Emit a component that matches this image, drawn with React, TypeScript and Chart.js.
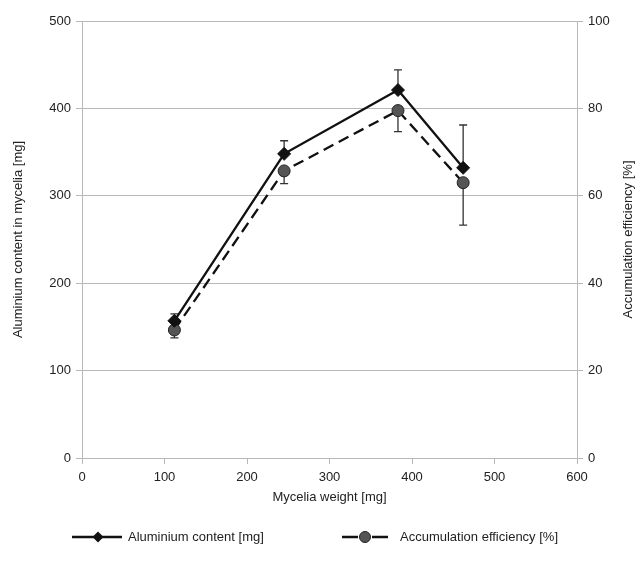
import React, { useEffect, useRef } from "react";
import { Chart, registerables } from "chart.js";
Chart.register(...registerables);

const myceliaWeight = [112, 245, 383, 462];
const aluminiumContent = [157, 348, 421, 332];
const aluminiumErrPlus = [8, 15, 23, 49];
const accumulationEff = [29.3, 65.7, 79.5, 63.0];
const accumulationErrMinus = [1.8, 2.9, 4.8, 9.7];

const xTicks = [0, 100, 200, 300, 400, 500, 600];
const yLeftTicks = [0, 100, 200, 300, 400, 500];
const yRightTicks = [0, 20, 40, 60, 80, 100];

const seriesNames = ["Aluminium content [mg]", "Accumulation efficiency [%]"];
const xTitle = "Mycelia weight [mg]";
const yLeftTitle = "Aluminium content in mycelia [mg]";
const yRightTitle = "Accumulation efficiency [%]";

const FONT = "'Liberation Sans', Arial, sans-serif";
const TEXT = "#222";
const GRID = "#b8b8b8";

const errorBarPlugin = {
  id: "errorBars",
  beforeDatasetsDraw(chart: any) {
    const ctx = chart.ctx;
    const x = chart.scales.x;
    const sets = [
      { scale: chart.scales.y, vals: aluminiumContent, errs: aluminiumErrPlus, dir: 1 },
      { scale: chart.scales.y1, vals: accumulationEff, errs: accumulationErrMinus, dir: -1 },
    ];
    ctx.save();
    ctx.strokeStyle = "#333";
    ctx.lineWidth = 1.3;
    sets.forEach((s) => {
      s.vals.forEach((v, i) => {
        const px = x.getPixelForValue(myceliaWeight[i]);
        const from = s.scale.getPixelForValue(v);
        const to = s.scale.getPixelForValue(v + s.dir * s.errs[i]);
        ctx.beginPath();
        ctx.moveTo(px, from);
        ctx.lineTo(px, to);
        ctx.moveTo(px - 4, to);
        ctx.lineTo(px + 4, to);
        ctx.stroke();
      });
    });
    ctx.restore();
  },
};

const titlesLegendPlugin = {
  id: "titlesLegend",
  afterDraw(chart: any) {
    const ctx = chart.ctx;
    const a = chart.chartArea;
    ctx.save();
    ctx.fillStyle = TEXT;
    ctx.font = `13px ${FONT}`;
    ctx.textAlign = "center";
    ctx.textBaseline = "middle";
    ctx.fillText(xTitle, (a.left + a.right) / 2, 497);
    ctx.save();
    ctx.translate(18, (a.top + a.bottom) / 2);
    ctx.rotate(-Math.PI / 2);
    ctx.fillText(yLeftTitle, 0, 0);
    ctx.restore();
    ctx.save();
    ctx.translate(628, (a.top + a.bottom) / 2);
    ctx.rotate(-Math.PI / 2);
    ctx.fillText(yRightTitle, 0, 0);
    ctx.restore();

    const ly = 537;
    ctx.textAlign = "left";
    ctx.strokeStyle = "#111";
    ctx.lineWidth = 2.3;
    ctx.beginPath();
    ctx.moveTo(72, ly);
    ctx.lineTo(122, ly);
    ctx.stroke();
    ctx.fillStyle = "#111";
    ctx.beginPath();
    ctx.moveTo(98, ly - 5.5);
    ctx.lineTo(103.5, ly);
    ctx.lineTo(98, ly + 5.5);
    ctx.lineTo(92.5, ly);
    ctx.closePath();
    ctx.fill();
    ctx.fillStyle = TEXT;
    ctx.fillText(seriesNames[0], 128, ly);
    ctx.strokeStyle = "#111";
    ctx.beginPath();
    ctx.moveTo(342, ly);
    ctx.lineTo(358, ly);
    ctx.moveTo(372, ly);
    ctx.lineTo(388, ly);
    ctx.stroke();
    ctx.fillStyle = "#555";
    ctx.lineWidth = 1;
    ctx.strokeStyle = "#222";
    ctx.beginPath();
    ctx.arc(365, ly, 5.5, 0, Math.PI * 2);
    ctx.fill();
    ctx.stroke();
    ctx.fillStyle = TEXT;
    ctx.fillText(seriesNames[1], 400, ly);
    ctx.restore();
  },
};

export default function App() {
  const ref = useRef<HTMLCanvasElement>(null);
  useEffect(() => {
    if (!ref.current) return;
    const chart = new Chart(ref.current, {
      type: "scatter",
      data: {
        datasets: [
          {
            label: seriesNames[0],
            data: myceliaWeight.map((x, i) => ({ x, y: aluminiumContent[i] })),
            showLine: true,
            borderColor: "#111",
            borderWidth: 2.3,
            pointStyle: "rectRot",
            pointRadius: 6.5,
            pointBackgroundColor: "#111",
            pointBorderColor: "#111",
            pointBorderWidth: 1,
            yAxisID: "y",
            order: 1,
          },
          {
            label: seriesNames[1],
            data: myceliaWeight.map((x, i) => ({ x, y: accumulationEff[i] })),
            showLine: true,
            borderColor: "#111",
            borderWidth: 2.3,
            borderDash: [11, 6],
            pointStyle: "circle",
            pointRadius: 6,
            pointBackgroundColor: "#555",
            pointBorderColor: "#222",
            pointBorderWidth: 1,
            yAxisID: "y1",
            order: 2,
          },
        ],
      },
      options: {
        responsive: false,
        animation: false,
        layout: { padding: { top: 21, left: 0, right: 0, bottom: 0 } },
        plugins: { legend: { display: false }, tooltip: { enabled: false } },
        scales: {
          x: {
            type: "linear",
            min: 0,
            max: 600,
            afterBuildTicks: (s: any) => {
              s.ticks = xTicks.map((v) => ({ value: v }));
            },
            afterFit: (s: any) => {
              s.height = 104;
            },
            grid: { drawOnChartArea: false, drawTicks: true, tickLength: 6, color: GRID },
            border: { color: GRID, width: 1 },
            ticks: { padding: 6, color: TEXT, font: { family: FONT, size: 13 }, maxRotation: 0 },
          },
          y: {
            type: "linear",
            position: "left",
            min: 0,
            max: 500,
            afterBuildTicks: (s: any) => {
              s.ticks = yLeftTicks.map((v) => ({ value: v }));
            },
            afterFit: (s: any) => {
              s.width = 82;
            },
            grid: { color: GRID, tickLength: 6, lineWidth: 1 },
            border: { color: GRID, width: 1 },
            ticks: { padding: 5, color: TEXT, font: { family: FONT, size: 13 } },
          },
          y1: {
            type: "linear",
            position: "right",
            min: 0,
            max: 100,
            afterBuildTicks: (s: any) => {
              s.ticks = yRightTicks.map((v) => ({ value: v }));
            },
            afterFit: (s: any) => {
              s.width = 64;
            },
            grid: { drawOnChartArea: false, color: GRID, tickLength: 6 },
            border: { color: GRID, width: 1 },
            ticks: { padding: 5, color: TEXT, font: { family: FONT, size: 13 } },
          },
        },
      },
      plugins: [errorBarPlugin, titlesLegendPlugin],
    } as any);
    return () => chart.destroy();
  }, []);
  return (
    <div style={{ position: "fixed", left: 0, top: 0, width: 641, height: 562, background: "#fff" }}>
      <canvas ref={ref} width={641} height={562} style={{ display: "block" }} />
    </div>
  );
}
